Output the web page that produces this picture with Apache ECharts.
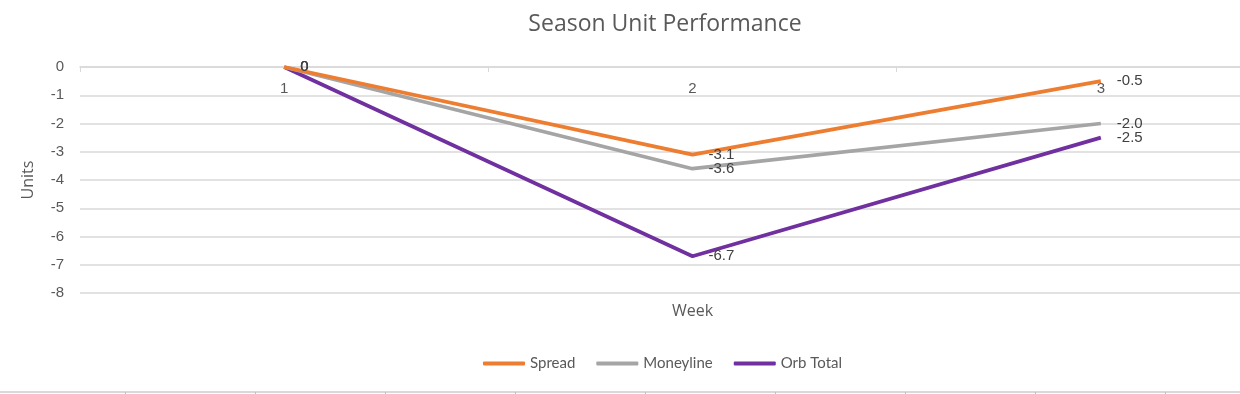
<!DOCTYPE html>
<html>
<head>
<meta charset="utf-8">
<script src="https://cdn.jsdelivr.net/npm/echarts@6/dist/echarts.min.js"></script>
<style>html,body{margin:0;padding:0;background:#fff}#c{width:1240px;height:394px}</style>
</head>
<body>
<div id="c"></div>
<script>
var weeks = ['1', '2', '3'];
var spread = [0, -3.1, -0.5];
var moneyline = [0, -3.6, -2.0];
var orbTotal = [0, -6.7, -2.5];
var spreadLabels = ['0', '-3.1', '-0.5'];
var moneylineLabels = ['0', '-3.6', '-2.0'];
var orbLabels = ['0', '-6.7', '-2.5'];
var yTicks = [0, -1, -2, -3, -4, -5, -6, -7, -8];

var chart = echarts.init(document.getElementById('c'), null, {renderer: 'canvas'});
var textColor = '#595959';
var font = '"Liberation Sans", Arial, sans-serif';
var titleFont = '"Open Sans", Lato, sans-serif';
var legendFont = 'Lato, "Open Sans", sans-serif';
function mkSeries(name, data, labels, color, z) {
  return {
    name: name, type: 'line', data: data, xAxisIndex: 0, yAxisIndex: 0,
    symbol: 'circle', symbolSize: 0, showSymbol: true, z: z,
    lineStyle: {color: color, width: 3.7},
    itemStyle: {color: color},
    label: {
      show: true, position: 'right', distance: 16,
      color: '#404040', fontSize: 15, fontFamily: font,
      offset: [0, 3],
      formatter: function (p) { return labels[p.dataIndex]; }
    },
    labelLayout: {hideOverlap: false}
  };
}
chart.setOption({
  animation: false,
  title: {
    text: 'Season Unit Performance', left: 660, top: 8, textAlign: 'center',
    textStyle: {color: textColor, fontSize: 23, fontWeight: 'normal', fontFamily: titleFont}
  },
  legend: {
    data: ['Spread', 'Moneyline', 'Orb Total'],
    left: 478, top: 351, itemWidth: 42, itemHeight: 4, itemGap: 21,
    icon: 'roundRect',
    textStyle: {color: textColor, fontSize: 15, fontFamily: legendFont}
  },
  grid: [
    {left: 80, top: 67, bottom: 101, right: -65, outerBoundsMode: 'none', containLabel: false},
    {left: -5, right: -55, top: 391, height: 1, outerBoundsMode: 'none', containLabel: false}
  ],
  xAxis: [
    {
      type: 'category', data: weeks, gridIndex: 0, boundaryGap: true, position: 'top',
      axisLine: {show: true, onZero: false, lineStyle: {color: '#D9D9D9', width: 1.5}},
      axisTick: {show: true, inside: true, length: 5, lineStyle: {color: '#D9D9D9'}},
      axisLabel: {color: textColor, fontSize: 15, fontFamily: font, inside: true, margin: 14},
      splitLine: {show: false}
    },
    {
      type: 'value', gridIndex: 1, min: 0, max: 10, interval: 1,
      axisLine: {show: true, lineStyle: {color: '#D9D9D9', width: 2}},
      axisTick: {show: true, length: 4, lineStyle: {color: '#BFBFBF'}},
      axisLabel: {show: false}, splitLine: {show: false}
    },
    {
      type: 'category', data: weeks, gridIndex: 0, position: 'bottom',
      name: 'Week', nameLocation: 'middle', nameGap: 10,
      nameTextStyle: {color: textColor, fontSize: 16, fontFamily: titleFont},
      axisLine: {show: false}, axisTick: {show: false}, axisLabel: {show: false},
      splitLine: {show: false}
    }
  ],
  yAxis: [
    {
      type: 'value', gridIndex: 0, min: -8, max: 0, interval: 1,
      name: 'Units', nameLocation: 'middle', nameGap: 44, nameRotate: 90,
      nameTextStyle: {color: textColor, fontSize: 16, fontFamily: titleFont},
      axisLine: {show: false}, axisTick: {show: false},
      axisLabel: {color: textColor, fontSize: 15, fontFamily: font, margin: 16,
        formatter: function (v) { return yTicks.indexOf(v) >= 0 ? String(v) : ''; }},
      splitLine: {show: true, lineStyle: {color: '#D9D9D9', width: 1.5}}
    },
    {
      type: 'value', gridIndex: 1, show: false
    }
  ],
  series: [
    mkSeries('Spread', spread, spreadLabels, '#ED7D31', 3),
    mkSeries('Moneyline', moneyline, moneylineLabels, '#A5A5A5', 2),
    mkSeries('Orb Total', orbTotal, orbLabels, '#7030A0', 1)
  ]
});
</script>
</body>
</html>
